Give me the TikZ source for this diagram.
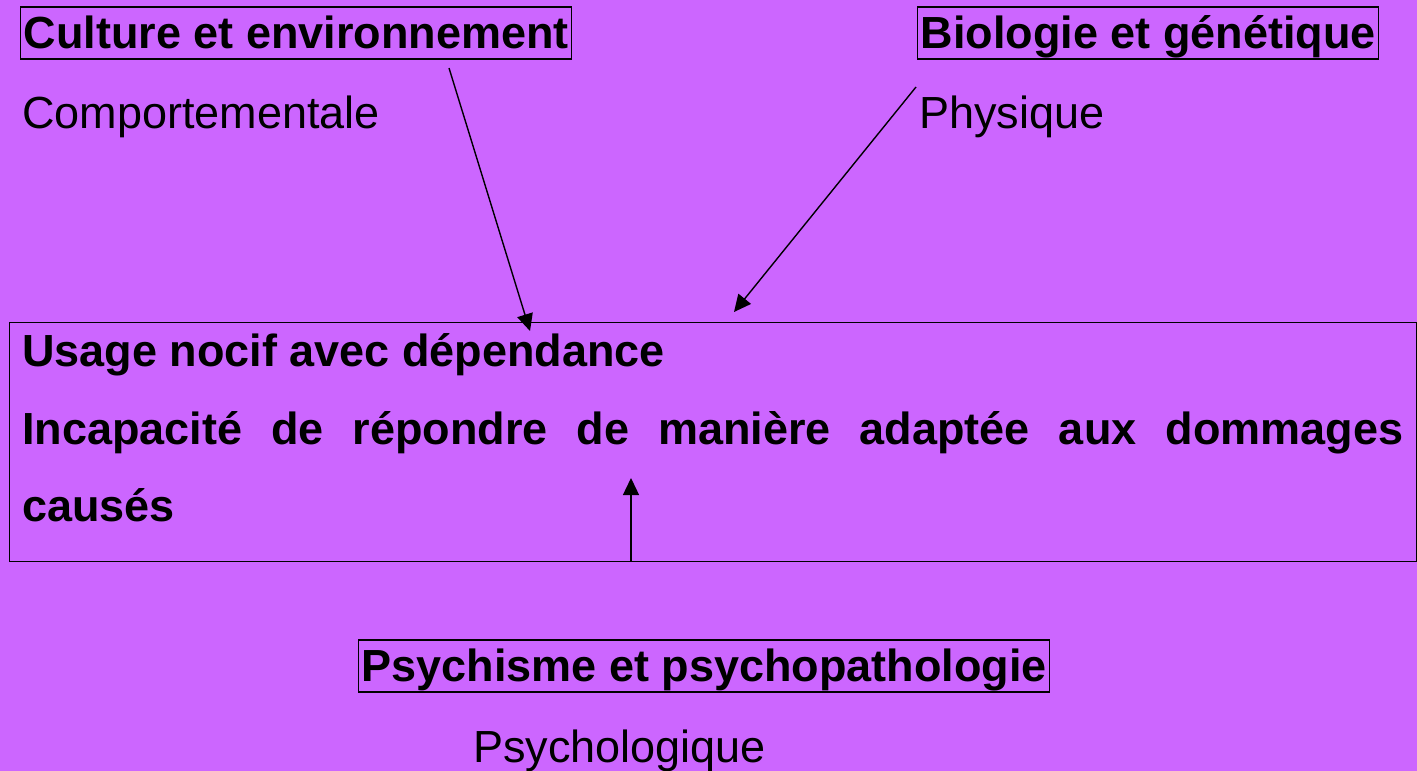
\documentclass[tikz,border=0pt]{standalone}
\usepackage{fontspec}
\setmainfont{Liberation Sans}
\usetikzlibrary{arrows.meta}
\definecolor{bgpurple}{HTML}{CC66FF}
\begin{document}
\begin{tikzpicture}[x=1pt,y=-1pt,
  every node/.style={font=\fontsize{45}{54}\selectfont, inner sep=0pt, text=black},
  head/.style={draw=black, line width=1.1pt, font=\fontsize{45}{54}\selectfont\bfseries, inner xsep=3pt, inner ysep=0pt, text height=41pt, text depth=11pt, anchor=base west},
  plain/.style={anchor=base west},
  bold/.style={anchor=base west, font=\fontsize{45}{54}\selectfont\bfseries},
  conn/.style={line width=1.4pt, -{Triangle[length=17pt,width=16pt]}}]
\fill[bgpurple] (0,0) rectangle (1417,771);
\useasboundingbox (0,0) rectangle (1417,771);
% header boxes
\node[head] (cult) at (20,48) {Culture et environnement};
\node[plain] (comp) at (22,128) {Comportementale};
\node[head] (bio) at (917,48) {Biologie et génétique};
\node[plain] (phys) at (919,128) {Physique};
% main box
\node[draw=black, line width=1.1pt, minimum width=1407pt, minimum height=239pt, anchor=north west] (main) at (9,322) {};
\node[bold] (usage) at (22,366) {Usage nocif avec dépendance};
\node[bold] (incap) at (22,444) {\makebox[1381pt][s]{Incapacité de répondre de manière adaptée aux dommages}};
\node[bold] (caus) at (22,521) {causés};
% bottom
\node[head] (psy) at (358,681) {Psychisme et psychopathologie};
\node[plain] (psyl) at (473,762) {Psychologique};
% connectors
\coordinate (a1s) at (449,68);
\coordinate (a1e) at (530,331);
\coordinate (a2s) at (916,87);
\coordinate (a2e) at (734,312);
\coordinate (a3s) at (631,561);
\coordinate (a3e) at (631,478);
\draw[conn] (a1s) -- (a1e);
\draw[conn] (a2s) -- (a2e);
\draw[conn] (a3s) -- (a3e);
\end{tikzpicture}
\end{document}
